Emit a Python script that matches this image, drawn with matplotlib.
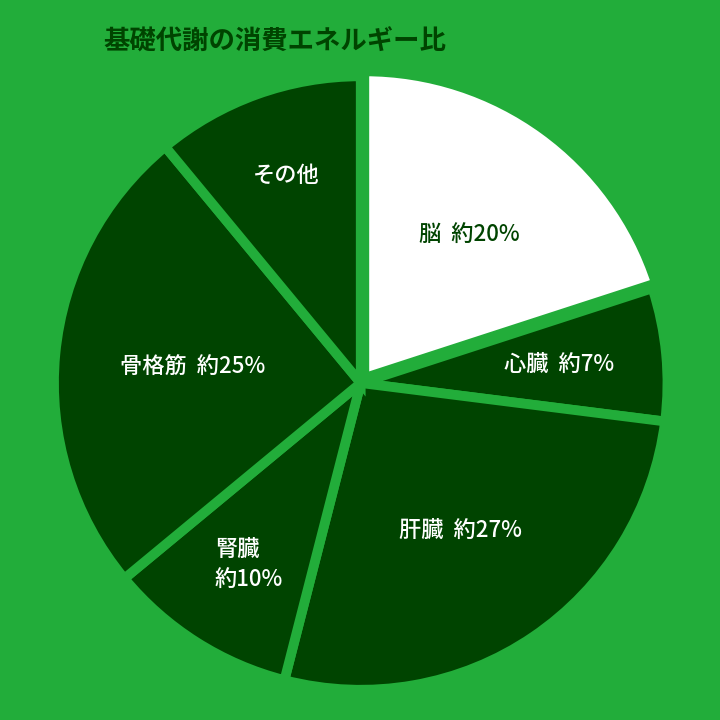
import numpy as np
import matplotlib.pyplot as plt

plt.rcParams['font.family'] = ['Noto Sans CJK JP', 'DejaVu Sans']

# data
organs = ["脳", "心臓", "肝臓", "腎臓", "骨格筋", "その他"]
shares = [20, 7, 27, 10, 25, 11]
label_texts = ["脳  約20%", "心臓  約7%", "肝臓  約27%", "腎臓\n約10%", "骨格筋  約25%", "その他"]

BG = "#22ad3a"
DARK = "#004400"
colors = ["#ffffff", DARK, DARK, DARK, DARK, DARK]
text_colors = [DARK, "white", "white", "white", "white", "white"]
label_r = [0.6, 0.65, 0.58, 0.7, 0.55, 0.72]
explode = [0.02, 0, 0, 0, 0, 0]

fig = plt.figure(figsize=(7.2, 7.2), dpi=100, facecolor=BG)
ax = fig.add_axes([0.075, 0.042, 0.852, 0.852])
ax.set_facecolor(BG)

wedges, _ = ax.pie(shares, colors=colors, startangle=90, counterclock=False,
                   explode=explode, radius=1.0,
                   wedgeprops=dict(edgecolor=BG, linewidth=7))
ax.set_xlim(-1.0, 1.0)
ax.set_ylim(-1.0, 1.0)
ax.set_aspect('equal')

for w, txt, r, tc in zip(wedges, label_texts, label_r, text_colors):
    ang = np.deg2rad((w.theta1 + w.theta2) / 2)
    x, y = r * np.cos(ang), r * np.sin(ang)
    if "\n" in txt:
        ax.text(x - 0.1, y, txt, ha='left', va='center', color=tc,
                fontsize=16, fontweight='medium', linespacing=1.4)
    else:
        ax.text(x, y, txt, ha='center', va='center', color=tc,
                fontsize=16, fontweight='medium')

fig.text(0.143, 0.942, "基礎代謝の消費エネルギー比", ha='left', va='center',
         color=DARK, fontsize=19, fontweight='bold')

fig.savefig("out.png", dpi=100, facecolor=BG)
